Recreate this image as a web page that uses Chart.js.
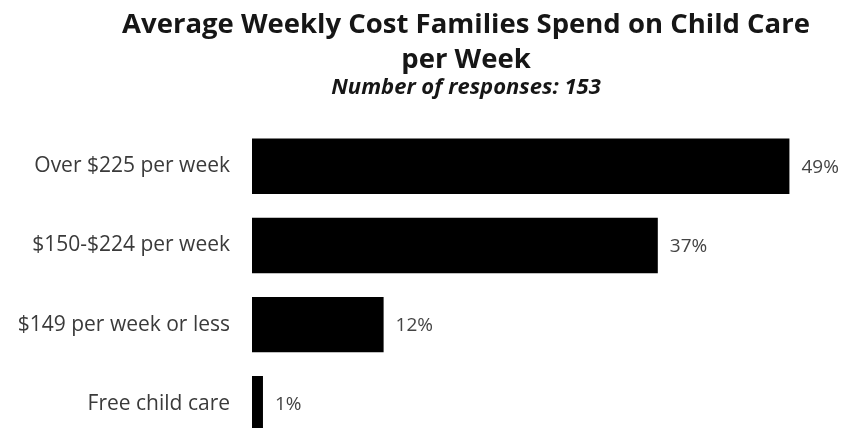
<!DOCTYPE html>
<html>
<head>
<meta charset="utf-8">
<script src="https://cdn.jsdelivr.net/npm/chart.js@4"></script>
<style>
  html, body { margin: 0; padding: 0; background: #fff; overflow: hidden; }
  #wrap { width: 932px; height: 480px; }
  canvas { display: block; }
</style>
</head>
<body>
<div id="wrap"><canvas id="costChart" width="932" height="470"></canvas></div>
<script>
const categories = ['Over $225 per week', '$150-$224 per week', '$149 per week or less', 'Free child care'];
const shares = [49, 37, 12, 1];
const titleLines = ['Average Weekly Cost Families Spend on Child Care', 'per Week'];
const subtitleText = 'Number of responses: 153';

// prints "NN%" just past the end of each bar
const valueLabels = {
  id: 'valueLabels',
  afterDatasetsDraw(chart) {
    const ctx = chart.ctx;
    const meta = chart.getDatasetMeta(0);
    ctx.save();
    ctx.font = '19px "Open Sans"';
    ctx.fillStyle = '#444';
    ctx.textAlign = 'left';
    ctx.textBaseline = 'middle';
    meta.data.forEach((bar, i) => {
      ctx.fillText(shares[i] + '%', bar.x + 12, bar.y + 1);
    });
    ctx.restore();
  }
};

const ctx = document.getElementById('costChart').getContext('2d');
new Chart(ctx, {
  type: 'bar',
  data: {
    labels: categories,
    datasets: [{
      data: shares,
      backgroundColor: '#000',
      borderWidth: 0,
      barPercentage: 0.7,
      categoryPercentage: 1
    }]
  },
  options: {
    indexAxis: 'y',
    responsive: false,
    animation: false,
    layout: { padding: 0 },
    plugins: {
      legend: { display: false },
      tooltip: { enabled: false },
      title: {
        display: true,
        text: titleLines,
        color: '#161616',
        font: { family: 'Open Sans', size: 27.5, weight: 'bold', lineHeight: 1.27 },
        padding: { top: 8, bottom: 0 }
      },
      subtitle: {
        display: true,
        text: subtitleText,
        color: '#161616',
        font: { family: 'Open Sans', size: 22, weight: 'bold', style: 'italic', lineHeight: 0.9 },
        padding: { top: 0, bottom: 29 }
      }
    },
    scales: {
      x: { display: false, min: 0, max: 62 },
      y: {
        grid: { display: false },
        border: { display: false },
        ticks: {
          color: '#3a3a3a',
          padding: 14,
          font: { family: 'Open Sans', size: 21 }
        },
        afterFit(scale) { scale.width = 252; }
      }
    }
  },
  plugins: [valueLabels]
});
</script>
</body>
</html>
